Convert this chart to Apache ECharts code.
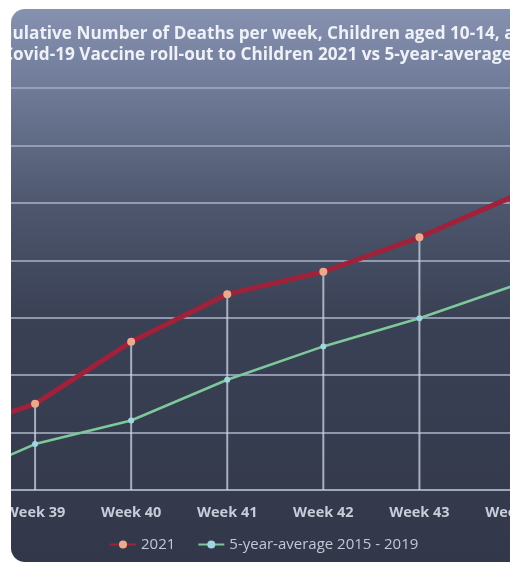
<!DOCTYPE html>
<html>
<head>
<meta charset="utf-8">
<script src="https://cdn.jsdelivr.net/npm/echarts@6/dist/echarts.min.js"></script>
<style>
  html, body { margin: 0; padding: 0; width: 510px; height: 566px; overflow: hidden; background: #ffffff; }
  #panel { position: absolute; left: 11px; top: 9px; width: 620px; height: 553px; border-radius: 14px; overflow: hidden; }
  #chart { position: absolute; left: -151px; top: -9px; width: 800px; height: 566px; }
</style>
</head>
<body>
<div id="panel"><div id="chart"></div></div>
<script>
const titleLines = [
  'Cumulative Number of Deaths per week, Children aged 10-14, after',
  'Covid-19 Vaccine roll-out to Children 2021 vs 5-year-average'
];
const categories = ['Week 38', 'Week 39', 'Week 40', 'Week 41', 'Week 42', 'Week 43', 'Week 44'];
const seriesNames = ['2021', '5-year-average 2015 - 2019'];
const values2021 = [9.4, 15.0, 25.8, 34.1, 38.0, 44.0, 51.3];
const valuesAvg = [0.7, 8.0, 12.1, 19.2, 25.0, 29.9, 35.7];
const yMin = 0, yMax = 70, yInterval = 10;

const titleStyle = { color: '#eef1f7', fontSize: 17.2, fontWeight: 'bold', lineHeight: 21, fontFamily: 'Open Sans' };

const chart = echarts.init(document.getElementById('chart'));
chart.setOption({
  animation: false,
  backgroundColor: {
    type: 'linear', x: 0, y: 0, x2: 0, y2: 1,
    colorStops: [
      { offset: 0, color: '#8894b1' },
      { offset: 0.16, color: '#6e7a97' },
      { offset: 0.36, color: '#4e576e' },
      { offset: 0.56, color: '#3a4155' },
      { offset: 1, color: '#323849' }
    ]
  },
  title: [
    { text: titleLines[0], left: 395, top: 19, textAlign: 'center', textStyle: titleStyle },
    { text: titleLines[1], left: 392, top: 40, textAlign: 'center', textStyle: titleStyle }
  ],
  legend: {
    data: seriesNames,
    left: 244, bottom: 9,
    itemWidth: 26, itemHeight: 10, itemGap: 22,
    textStyle: { color: '#c3c8d5', fontSize: 15, fontFamily: 'Open Sans' }
  },
  grid: { left: 79, right: 144.5, top: 88, bottom: 76 },
  xAxis: {
    type: 'category', data: categories, boundaryGap: false,
    axisLine: { lineStyle: { color: '#9ea7bb', width: 2 } },
    axisTick: { show: false },
    axisLabel: { color: '#c8cdd9', fontSize: 14.5, fontWeight: 'bold', margin: 15, fontFamily: 'Open Sans' },
    splitLine: { show: false }
  },
  yAxis: {
    type: 'value', min: yMin, max: yMax, interval: yInterval,
    axisLine: { show: false }, axisTick: { show: false },
    axisLabel: { color: '#c8cdd9' },
    splitLine: { lineStyle: { color: '#9ea7bb', width: 2, opacity: 0.85 } }
  },
  series: [
    {
      name: 'drop', type: 'bar', data: values2021, barWidth: 2, silent: true, z: 1,
      itemStyle: { color: 'rgba(205,213,228,0.75)' }
    },
    {
      name: seriesNames[0], type: 'line', data: values2021, z: 3,
      lineStyle: { color: '#a0213a', width: 5 },
      itemStyle: { color: '#eea98d' },
      symbol: 'circle', symbolSize: 8
    },
    {
      name: seriesNames[1], type: 'line', data: valuesAvg, z: 2,
      lineStyle: { color: '#7ec89b', width: 2.5 },
      itemStyle: { color: '#9fd6e4' },
      symbol: 'circle', symbolSize: 6
    }
  ]
});
</script>
</body>
</html>
